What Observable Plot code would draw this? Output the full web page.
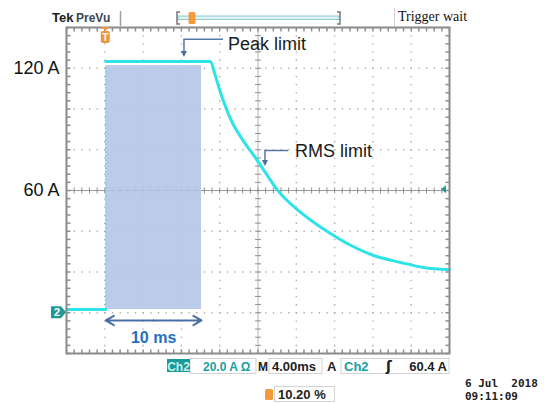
<!DOCTYPE html>
<html><head><meta charset="utf-8">
<script src="https://cdn.jsdelivr.net/npm/d3@7"></script>
<script src="https://cdn.jsdelivr.net/npm/@observablehq/plot@0.6"></script>
<style>
html,body{margin:0;padding:0;background:#fff;}
#chart{width:544px;height:403px;overflow:hidden;}
#chart svg{display:block;}
</style></head><body><div id="chart"></div>
<script>
(function () {
const traceTime = [-4.1, 0, 0, 10.93, 11.46, 11.98, 13.2, 14.28, 15.46, 16.68, 17.83, 20.33, 23.1, 25.62, 27.97, 30.79, 33.19, 35.9];
const traceAmps = [1.6, 1.6, 123.3, 123.3, 116.0, 108.1, 93.5, 85.0, 77.2, 68.8, 60.8, 49.4, 40, 33.0, 28.1, 24.7, 22.2, 21.1];
const traceSegment = ["pre", "pre", "post", "post", "post", "post", "post", "post", "post", "post", "post", "post", "post", "post", "post", "post", "post", "post"];
const pulseStart = 0, pulseEnd = 10, pulseTop = 121.3, pulseBase = 1.6;
const pulseLabel = "10 ms";
const calloutLabels = ["Peak limit", "RMS limit"];
const calloutTime = [8.22, 16.68];
const calloutAmps = [123.3, 68.8];
const yTickValues = [60, 120];
const yUnit = "A";
const triggerLevel = 60.4;
const msPerDiv = 4, ampsPerDiv = 20;
const xDomain = [-4.1, 35.9];   // 10 divisions, trigger at 10.20 %
const yDomain = [-20, 140];     // 8 divisions
const statusScale = "20.0 A Ω", statusTime = "4.00ms", statusTrig = "60.4 A";
const statusPos = "10.20 %", dateLine = "6 Jul  2018", timeLine = "09:11:09";

const trace = traceTime.map((t, k) => ({t, i: traceAmps[k], seg: traceSegment[k]}));
const callouts = calloutLabels.map((label, k) => ({label, t: calloutTime[k], i: calloutAmps[k]}));
const pulse = [{t0: pulseStart, t1: pulseEnd, lo: pulseBase, hi: pulseTop, label: pulseLabel}];

const xMid = (xDomain[0] + xDomain[1]) / 2, yMid = (yDomain[0] + yDomain[1]) / 2;
const xGrid = d3.range(1, 10).map(k => xDomain[0] + msPerDiv * k).filter(v => Math.abs(v - xMid) > 1e-6);
const yGrid = d3.range(1, 8).map(k => yDomain[0] + ampsPerDiv * k).filter(v => v !== yMid);
const xSub = d3.range(0, 51).map(k => xDomain[0] + msPerDiv / 5 * k);
const ySub = d3.range(0, 41).map(k => yDomain[0] + ampsPerDiv / 5 * k);

const seg = (x0, y0, x1, y1) => ({draw(ctx) { ctx.moveTo(x0, y0); ctx.lineTo(x1, y1); }});
const tickCol = "#8e8e8e";

const plot = Plot.plot({
  width: 544, height: 403,
  marginLeft: 66, marginRight: 95, marginTop: 27, marginBottom: 50,
  style: {background: "#fff", fontFamily: "'Liberation Sans', Arial, sans-serif", overflow: "visible"},
  x: {domain: xDomain, axis: null},
  y: {domain: yDomain, axis: null},
  marks: [
    Plot.ruleX(xGrid, {stroke: "#aaaaaa", strokeWidth: 1.4, strokeDasharray: "1.3,6.85"}),
    Plot.ruleY(yGrid, {stroke: "#aaaaaa", strokeWidth: 1.4, strokeDasharray: "1.3,6.36"}),
    Plot.ruleX([xMid], {stroke: "#b4b4b4", strokeWidth: 1}),
    Plot.ruleY([yMid], {stroke: "#9a9a9a", strokeWidth: 1}),
    Plot.dot(ySub, {x: xMid, y: d => d, symbol: seg(-3, 0, 3, 0), stroke: tickCol, fill: "none", strokeWidth: 1}),
    Plot.dot(xSub, {x: d => d, y: yMid, symbol: seg(0, -3, 0, 3), stroke: tickCol, fill: "none", strokeWidth: 1}),
    Plot.rect(pulse, {x1: "t0", x2: "t1", y1: "lo", y2: "hi", fill: "#b2c6e8", fillOpacity: 0.9}),
    Plot.ruleX(pulse, {x: "t0", y1: "lo", y2: "hi", stroke: "#52dde2", strokeWidth: 1.2, strokeDasharray: "2,2"}),
    Plot.line(trace, {x: "t", y: "i", z: "seg", stroke: "#2ee3e8", strokeWidth: 3, curve: "monotone-x"}),
    Plot.frame({stroke: "#8a8a8a", strokeWidth: 2}),
    Plot.dot(xSub, {x: d => d, y: yDomain[1], symbol: seg(0, 0, 0, 4), stroke: tickCol, fill: "none"}),
    Plot.dot(xSub, {x: d => d, y: yDomain[0], symbol: seg(0, 0, 0, -4), stroke: tickCol, fill: "none"}),
    Plot.dot(ySub, {x: xDomain[0], y: d => d, symbol: seg(0, 0, 4, 0), stroke: tickCol, fill: "none"}),
    Plot.dot(ySub, {x: xDomain[1], y: d => d, symbol: seg(0, 0, -4, 0), stroke: tickCol, fill: "none"}),
    Plot.arrow(pulse, {x1: d => (d.t0 + d.t1) / 2, x2: "t0", y1: "lo", y2: "lo", dy: 11, stroke: "#4a6fa5", strokeWidth: 2, headLength: 7}),
    Plot.arrow(pulse, {x1: d => (d.t0 + d.t1) / 2, x2: "t1", y1: "lo", y2: "lo", dy: 11, stroke: "#4a6fa5", strokeWidth: 2, headLength: 7}),
    Plot.text(pulse, {x: d => (d.t0 + d.t1) / 2, y: "lo", text: "label", dy: 28, fontSize: 16, fontWeight: "bold", fill: "#1f6fc2"}),
    Plot.axisY({ticks: yTickValues, tickFormat: d => `${d} ${yUnit}`, tickSize: 0, tickPadding: 7, fontSize: 18, label: null, fill: "#111"})
  ]
});
document.getElementById("chart").append(plot);

// ---- scope chrome and callouts, positioned with Plot's scales ----
const sx = plot.scale("x"), sy = plot.scale("y");
const X = v => sx.apply(v), Y = v => sy.apply(v);
const svg = d3.select(plot);
const g = svg.append("g").attr("text-anchor", "start");
const fontUI = "'Liberation Sans', Arial, sans-serif";

// callouts
const cStyle = [{gap: 4, rise: 17.7, run: 39, tx: 44, ty: 4}, {gap: 6, rise: 15.6, run: 23, tx: 30, ty: 0}];
callouts.forEach((c, k) => {
  const s = cStyle[k];
  const px = X(c.t), tip = Y(c.i) - s.gap, cy = tip - s.rise;
  g.append("path").attr("d", `M${px + s.run},${cy}L${px},${cy}L${px},${tip - 5}`)
    .attr("fill", "none").attr("stroke", "#5577a6").attr("stroke-width", 1.5);
  g.append("path").attr("d", `M${px - 3},${tip - 6}L${px + 3},${tip - 6}L${px},${tip}Z`).attr("fill", "#4a6fa5");
  g.append("text").attr("x", px + s.tx).attr("y", cy + s.ty).attr("dy", "0.36em").attr("text-anchor", "start")
    .attr("font-family", fontUI).attr("font-size", 18).attr("fill", "#1a1a1a").text(c.label);
});

// trigger position marker on top of the graticule
const tx0 = X(0), frameTop = Y(yDomain[1]);
g.append("path").attr("d", `M${tx0 - 4},${frameTop}L${tx0 + 4},${frameTop}L${tx0},${frameTop + 4}Z`).attr("fill", "#f0953a");
g.append("rect").attr("x", tx0 - 4.5).attr("y", frameTop + 4).attr("width", 9).attr("height", 12).attr("rx", 2).attr("fill", "#f0953a");
g.append("text").attr("x", tx0).attr("y", frameTop + 14).attr("text-anchor", "middle").attr("font-family", fontUI)
  .attr("font-weight", "bold").attr("font-size", 10).attr("fill", "#fff").text("T");

// channel 2 ground marker
const gy = Y(0), lx = X(xDomain[0]);
g.append("path").attr("d", `M${lx - 15},${gy - 6}L${lx - 5},${gy - 6}L${lx},${gy}L${lx - 5},${gy + 6}L${lx - 15},${gy + 6}Z`).attr("fill", "#1f9a96");
g.append("text").attr("x", lx - 9).attr("y", gy + 4).attr("text-anchor", "middle").attr("font-family", fontUI)
  .attr("font-weight", "bold").attr("font-size", 11).attr("fill", "#fff").text("2");

// trigger level marker
const ry = Y(triggerLevel), rx = X(xDomain[1]);
g.append("path").attr("d", `M${rx - 8},${ry}L${rx - 3},${ry - 4}L${rx - 3},${ry + 4}Z`).attr("fill", "#1f9a96");

// top bar
const txt = (x, y, s, o = {}) => g.append("text").attr("x", x).attr("y", y).attr("font-family", o.family || fontUI)
  .attr("font-size", o.size || 13).attr("font-weight", o.weight || "bold").attr("fill", o.fill || "#222")
  .attr("text-anchor", o.anchor || "start").text(s);
txt(52, 22, "Tek", {size: 13, fill: "#1c1c1c"});
txt(76, 22, "PreVu", {size: 12, fill: "#3a4658"});
g.append("line").attr("x1", 120.5).attr("x2", 120.5).attr("y1", 11).attr("y2", 26).attr("stroke", "#a0a0a0").attr("stroke-width", 1.5);
g.append("rect").attr("x", 178).attr("y", 16).attr("width", 161).attr("height", 3.5).attr("fill", "#dff3f5").attr("stroke", "#8ccbd3").attr("stroke-width", 1);
g.append("path").attr("d", "M180,12L177,12L177,24L180,24M337,12L340,12L340,24L337,24").attr("fill", "none").attr("stroke", "#777").attr("stroke-width", 1.5);
g.append("rect").attr("x", 188.5).attr("y", 12).attr("width", 7).attr("height", 12).attr("rx", 1.5).attr("fill", "#f39a3c");
g.append("line").attr("x1", 394.5).attr("x2", 394.5).attr("y1", 8).attr("y2", 26).attr("stroke", "#cfcfcf");
txt(398, 21, "Trigger wait", {family: "'Liberation Serif', 'Times New Roman', serif", size: 14, weight: "normal", fill: "#111"});

// status bar
const teal = "#1aa0a0";
g.append("rect").attr("x", 190).attr("y", 358.5).attr("width", 66).attr("height", 15).attr("fill", "#fff").attr("stroke", "#d2d2d2");
g.append("rect").attr("x", 269).attr("y", 358.5).attr("width", 53).attr("height", 15).attr("fill", "#fff").attr("stroke", "#d2d2d2");
g.append("rect").attr("x", 341).attr("y", 358.5).attr("width", 108).attr("height", 15).attr("fill", "#fff").attr("stroke", "#d2d2d2");
g.append("rect").attr("x", 167).attr("y", 359).attr("width", 23).attr("height", 13).attr("fill", "#189a98");
txt(178.5, 370.5, "Ch2", {size: 12, fill: "#c9f1ef", anchor: "middle"});
txt(203, 371, statusScale, {size: 12, fill: teal});
txt(258, 371, "M", {size: 12, fill: "#222"});
txt(272, 371, statusTime, {size: 13, fill: "#222"});
txt(327, 371, "A", {size: 13, fill: "#222"});
txt(344, 371, "Ch2", {size: 13, fill: teal});
txt(386, 371, "ʃ", {size: 14, fill: "#222", family: "'DejaVu Sans', sans-serif"});
txt(447, 371, statusTrig, {size: 13, fill: "#222", anchor: "end"});
g.append("rect").attr("x", 265).attr("y", 389).attr("width", 8).attr("height", 11).attr("rx", 1.5).attr("fill", "#f39a3c");
g.append("rect").attr("x", 274.5).attr("y", 386.5).attr("width", 60).attr("height", 15).attr("fill", "#fff").attr("stroke", "#d2d2d2");
txt(278, 399, statusPos, {size: 13, fill: "#222"});
txt(465, 387, dateLine, {size: 11, fill: "#222", family: "'DejaVu Sans Mono', monospace"});
txt(465, 399.5, timeLine, {size: 11, fill: "#222", family: "'DejaVu Sans Mono', monospace"});
})();
</script></body></html>
